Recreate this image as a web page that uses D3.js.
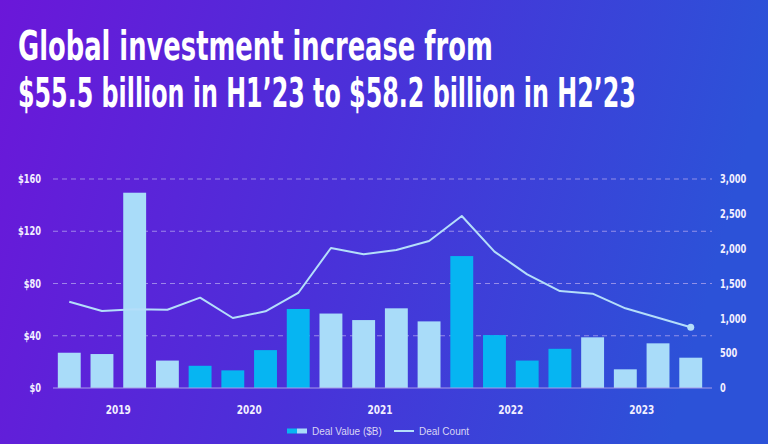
<!DOCTYPE html>
<html>
<head>
<meta charset="utf-8">
<script src="https://cdn.jsdelivr.net/npm/d3@7/dist/d3.min.js"></script>
<style>
  html, body { margin: 0; padding: 0; background: #4a30d8; }
  svg { display: block; }
</style>
</head>
<body>
<script>
// ---------- data ----------
const quarters = ["Q1'19","Q2'19","Q3'19","Q4'19","Q1'20","Q2'20","Q3'20","Q4'20",
                  "Q1'21","Q2'21","Q3'21","Q4'21","Q1'22","Q2'22","Q3'22","Q4'22",
                  "Q1'23","Q2'23","Q3'23","Q4'23"];
const quarterYear = [2019,2019,2019,2019,2020,2020,2020,2020,2021,2021,2021,2021,
                     2022,2022,2022,2022,2023,2023,2023,2023];
const years = [2019, 2020, 2021, 2022, 2023];
const dealValue = [27, 26, 149.5, 21, 17, 13.5, 29, 60.5, 57, 52, 61, 51,
                   101, 40.5, 21, 30, 38.8, 14.3, 34.2, 23.2];
const dealCount = [1239, 1105, 1129, 1124, 1297, 1005, 1101, 1364, 2010, 1919, 1981, 2110,
                   2469, 1957, 1632, 1392, 1354, 1144, 1009, 871];
const leftTicks = [0, 40, 80, 120, 160];
const rightTicks = [0, 500, 1000, 1500, 2000, 2500, 3000];
const titleLines = ["Global investment increase from", "$55.5 billion in H1\u201923 to $58.2 billion in H2\u201923"];
const legendLabels = ["Deal Value ($B)", "Deal Count"];

// ---------- layout ----------
const W = 768, H = 444;
const plotL = 48, plotR = 712, plotT = 179, plotB = 388;
const lightBar = "#a9dcf9", cyanBar = "#06b5f2", lineCol = "#b4defa";
const condensed = "'Liberation Sans Narrow','DejaVu Sans Condensed','Liberation Sans',sans-serif";

const svg = d3.select("body").append("svg").attr("width", W).attr("height", H);
const defs = svg.append("defs");
const grad = defs.append("linearGradient").attr("id", "bg").attr("x1", "0").attr("y1", "0").attr("x2", "1").attr("y2", "0.15");
grad.append("stop").attr("offset", "0%").attr("stop-color", "#6b17d9");
grad.append("stop").attr("offset", "50%").attr("stop-color", "#4a31d9");
grad.append("stop").attr("offset", "100%").attr("stop-color", "#2c52d8");
svg.append("rect").attr("width", W).attr("height", H).attr("fill", "url(#bg)");

// helper: horizontally condense a text element around its own origin
function condense(sel, sx) {
  sel.each(function () {
    const t = d3.select(this);
    const tx = +t.attr("x") || 0;
    const prev = t.attr("transform") || "";
    t.attr("x", 0).attr("transform", `${prev} translate(${tx},0) scale(${sx},1)`);
  });
}

// title (condensed to the reference widths)
const titleWidths = [475, 618];
svg.selectAll("text.title").data(titleLines).join("text")
  .attr("class", "title")
  .attr("fill", "#ffffff")
  .attr("font-family", condensed)
  .attr("font-weight", "bold")
  .attr("font-size", 40)
  .text(d => d)
  .each(function (d, i) {
    const w = this.getComputedTextLength();
    const sx = titleWidths[i] / w;
    d3.select(this).attr("transform", `translate(18,${60 + i * 47}) scale(${sx},1)`);
  });

// scales
const x = d3.scaleBand().domain(quarters).range([plotL, plotR]).padding(0.3);
const yL = d3.scaleLinear().domain([0, 160]).range([plotB, plotT]);
const yR = d3.scaleLinear().domain([0, 3000]).range([plotB, plotT]);

// grid lines
svg.append("g").selectAll("line").data(leftTicks.filter(d => d > 0)).join("line")
  .attr("x1", 53).attr("x2", plotR)
  .attr("y1", d => yL(d)).attr("y2", d => yL(d))
  .attr("stroke", "#b3a6ee").attr("stroke-opacity", 0.75)
  .attr("stroke-width", 1).attr("stroke-dasharray", "5,4");

// bars
svg.append("g").selectAll("rect").data(quarters).join("rect")
  .attr("x", d => x(d))
  .attr("width", x.bandwidth())
  .attr("y", (d, i) => yL(dealValue[i]))
  .attr("height", (d, i) => yL(0) - yL(dealValue[i]))
  .attr("fill", (d, i) => (years.indexOf(quarterYear[i]) % 2 === 1) ? cyanBar : lightBar);

// baseline
svg.append("line").attr("x1", 53).attr("x2", plotR).attr("y1", plotB).attr("y2", plotB)
  .attr("stroke", "#a99ce8").attr("stroke-width", 1);

// line
const line = d3.line()
  .x((d, i) => x(quarters[i]) + x.bandwidth() / 2)
  .y(d => yR(d));
svg.append("path").datum(dealCount)
  .attr("d", line).attr("fill", "none")
  .attr("stroke", lineCol).attr("stroke-width", 2).attr("stroke-linejoin", "round");
svg.append("circle")
  .attr("cx", x(quarters[quarters.length - 1]) + x.bandwidth() / 2)
  .attr("cy", yR(dealCount[dealCount.length - 1]))
  .attr("r", 3.5).attr("fill", lineCol);

// axes
const axL = svg.append("g").attr("transform", `translate(${plotL},0)`)
  .call(d3.axisLeft(yL).tickValues(leftTicks).tickFormat(d => "$" + d).tickSize(0).tickPadding(7));
const axR = svg.append("g").attr("transform", `translate(${plotR},0)`)
  .call(d3.axisRight(yR).tickValues(rightTicks).tickFormat(d3.format(",")).tickSize(0).tickPadding(8));
[axL, axR].forEach(ax => {
  ax.select(".domain").remove();
  ax.selectAll("text").attr("fill", "#f2efff").attr("font-family", condensed)
    .attr("font-weight", "bold").attr("font-size", 11.5)
    .call(condense, 0.8);
});

// year labels
svg.append("g").selectAll("text").data(years).join("text")
  .attr("x", yr => d3.mean(quarters.filter((q, i) => quarterYear[i] === yr), q => x(q) + x.bandwidth() / 2))
  .attr("y", 414)
  .attr("text-anchor", "middle")
  .attr("fill", "#f2efff").attr("font-family", condensed)
  .attr("font-weight", "bold").attr("font-size", 12.5)
  .text(d => d)
  .call(condense, 0.8);

// legend
const lg = svg.append("g").attr("transform", "translate(287,431)");
lg.append("rect").attr("x", 0).attr("y", -2.5).attr("width", 10).attr("height", 5).attr("fill", cyanBar);
lg.append("rect").attr("x", 10).attr("y", -2.5).attr("width", 10).attr("height", 5).attr("fill", lightBar);
lg.append("text").attr("x", 25).attr("y", 3.8).attr("fill", "#d9d5f4")
  .attr("font-family", "'Liberation Sans',Arial,sans-serif").attr("font-size", 10).text(legendLabels[0]);
lg.append("line").attr("x1", 107).attr("x2", 127).attr("y1", 0).attr("y2", 0)
  .attr("stroke", lineCol).attr("stroke-width", 2);
lg.append("text").attr("x", 132).attr("y", 3.8).attr("fill", "#d9d5f4")
  .attr("font-family", "'Liberation Sans',Arial,sans-serif").attr("font-size", 10).text(legendLabels[1]);
</script>
</body>
</html>
